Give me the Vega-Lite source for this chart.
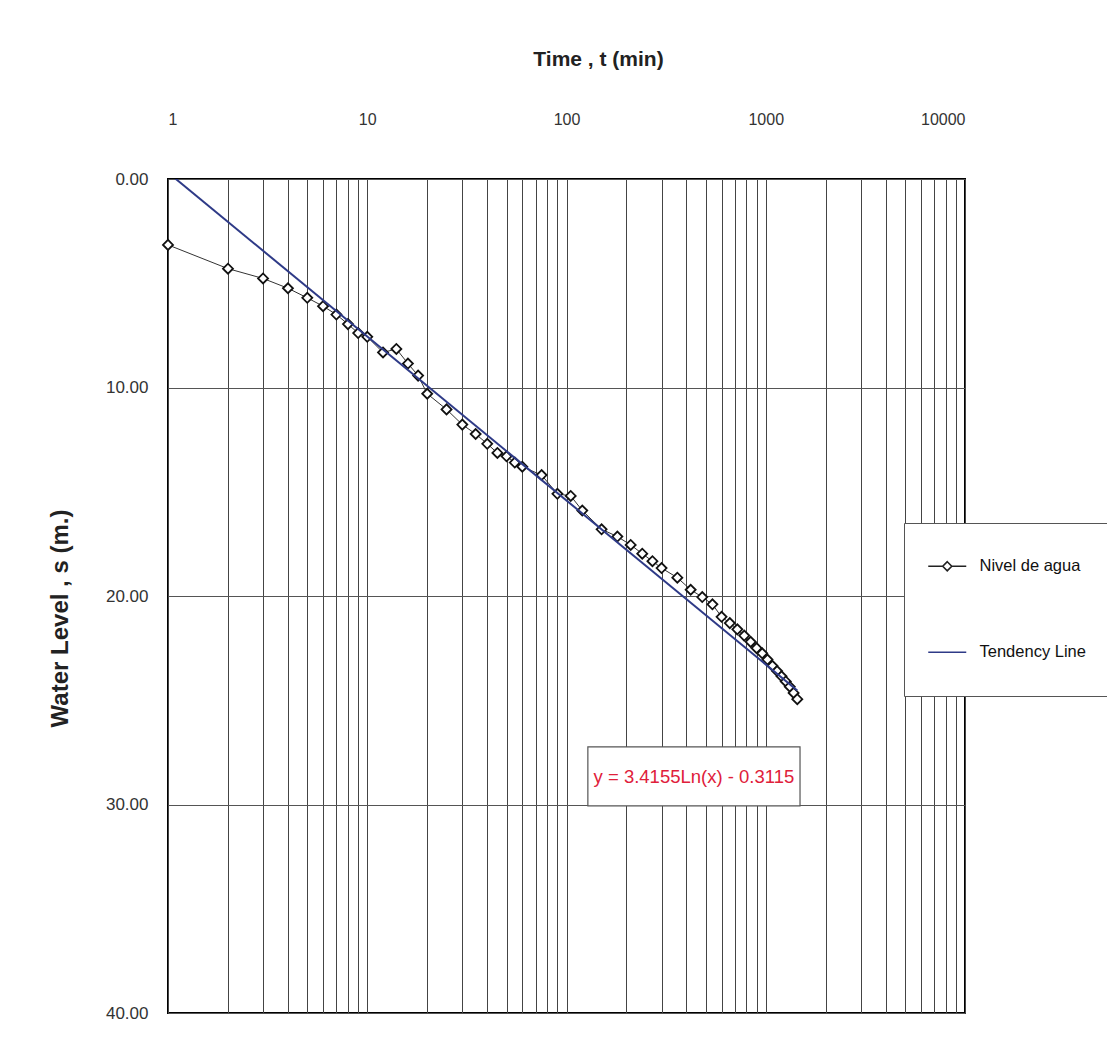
{
  "$schema": "https://vega.github.io/schema/vega-lite/v6.json",
  "autosize": "none",
  "width": 797,
  "height": 834,
  "padding": {"left": 168, "top": 179, "right": 142, "bottom": 45},
  "background": "white",
  "config": {
    "view": {"stroke": "black", "strokeWidth": 2},
    "font": "Liberation Sans"
  },
  "datasets": {
    "nivel": [
      {"t": 1, "s": 3.16}, {"t": 2, "s": 4.3}, {"t": 3, "s": 4.77}, {"t": 4, "s": 5.24},
      {"t": 5, "s": 5.7}, {"t": 6, "s": 6.1}, {"t": 7, "s": 6.5}, {"t": 8, "s": 6.96},
      {"t": 9, "s": 7.39}, {"t": 10, "s": 7.57}, {"t": 12, "s": 8.32}, {"t": 14, "s": 8.15},
      {"t": 16, "s": 8.85}, {"t": 18, "s": 9.43}, {"t": 20, "s": 10.3}, {"t": 25, "s": 11.05},
      {"t": 30, "s": 11.78}, {"t": 35, "s": 12.23}, {"t": 40, "s": 12.7}, {"t": 45, "s": 13.14},
      {"t": 50, "s": 13.3}, {"t": 55, "s": 13.6}, {"t": 60, "s": 13.8}, {"t": 75, "s": 14.2},
      {"t": 90, "s": 15.1}, {"t": 105, "s": 15.2}, {"t": 120, "s": 15.9}, {"t": 150, "s": 16.8},
      {"t": 180, "s": 17.15}, {"t": 210, "s": 17.55}, {"t": 240, "s": 17.97}, {"t": 270, "s": 18.33},
      {"t": 300, "s": 18.66}, {"t": 360, "s": 19.12}, {"t": 420, "s": 19.7}, {"t": 480, "s": 20.05},
      {"t": 540, "s": 20.4}, {"t": 600, "s": 21.0}, {"t": 660, "s": 21.3}, {"t": 720, "s": 21.6},
      {"t": 780, "s": 21.9}, {"t": 840, "s": 22.2}, {"t": 900, "s": 22.5}, {"t": 960, "s": 22.75},
      {"t": 1020, "s": 23.05}, {"t": 1080, "s": 23.35}, {"t": 1140, "s": 23.6}, {"t": 1200, "s": 23.85},
      {"t": 1260, "s": 24.1}, {"t": 1320, "s": 24.35}, {"t": 1380, "s": 24.65}, {"t": 1440, "s": 24.95}
    ],
    "trend": [
      {"t": 1, "s": -0.3115},
      {"t": 1440, "s": 24.53}
    ],
    "legendRows": [
      {"series": "Nivel de agua"},
      {"series": "Tendency Line"}
    ],
    "note": [
      {"t1": 128, "t2": 1486, "s1": 27.24, "s2": 30.07, "tm": 436, "sm": 28.68, "label": "y = 3.4155Ln(x) - 0.3115"}
    ]
  },
  "encoding": {
    "x": {
      "field": "t",
      "type": "quantitative",
      "scale": {"type": "log", "domain": [1, 10000]},
      "axis": {
        "orient": "top",
        "title": "Time , t (min)",
        "titleFont": "Liberation Sans",
        "titleFontSize": 21,
        "titleFontWeight": "bold",
        "titleColor": "#222",
        "titlePadding": 42,
        "titleX": 430,
        "titleAnchor": "start",
        "titleAlign": "center",
        "values": [1,2,3,4,5,6,7,8,9,10,20,30,40,50,60,70,80,90,100,200,300,400,500,600,700,800,900,1000,2000,3000,4000,5000,6000,7000,8000,9000,10000],
        "format": "d",
        "labelExpr": "(datum.value == 1 || datum.value == 10 || datum.value == 100 || datum.value == 1000 || datum.value == 10000) ? datum.label : ''",
        "labelOverlap": false,
        "labelFontSize": 16,
        "labelColor": "#333",
        "labelPadding": 52,
        "ticks": false,
        "tickSize": 0,
        "domain": false,
        "grid": true,
        "gridColor": "#444",
        "gridWidth": 1,
        "gridOpacity": 1
      }
    },
    "y": {
      "field": "s",
      "type": "quantitative",
      "scale": {"domain": [0, 40], "reverse": true, "nice": false},
      "axis": {
        "title": "Water Level , s (m.)",
        "titleFont": "Liberation Sans",
        "titleFontSize": 24,
        "titleFontWeight": "bold",
        "titleColor": "#222",
        "titlePadding": 33,
        "titleY": 439,
        "titleAnchor": "start",
        "titleAlign": "center",
        "values": [0, 10, 20, 30, 40],
        "format": ".2f",
        "labelFontSize": 17,
        "labelColor": "#333",
        "labelPadding": 20,
        "ticks": false,
        "tickSize": 0,
        "domain": false,
        "grid": true,
        "gridColor": "#555",
        "gridWidth": 1,
        "gridOpacity": 1
      }
    }
  },
  "layer": [
    {
      "data": {"name": "note"},
      "mark": {"type": "rect", "fill": "white", "stroke": "#555", "strokeWidth": 1.2},
      "encoding": {
        "x": {"field": "t1", "type": "quantitative"},
        "x2": {"field": "t2"},
        "y": {"field": "s1", "type": "quantitative"},
        "y2": {"field": "s2"}
      }
    },
    {
      "data": {"name": "nivel"},
      "mark": {"type": "line", "color": "#333", "strokeWidth": 1}
    },
    {
      "data": {"name": "nivel"},
      "mark": {"type": "point", "shape": "diamond", "size": 100, "filled": true, "fill": "white", "stroke": "#111", "strokeWidth": 1.8, "opacity": 1}
    },
    {
      "data": {"name": "trend"},
      "mark": {"type": "line", "color": "#2e3a87", "strokeWidth": 2, "clip": true}
    },
    {
      "data": {"name": "note"},
      "mark": {"type": "text", "color": "#e0203a", "font": "Liberation Sans", "fontSize": 18.5, "align": "center", "baseline": "middle"},
      "encoding": {
        "x": {"field": "tm", "type": "quantitative"},
        "y": {"field": "sm", "type": "quantitative"},
        "text": {"field": "label"}
      }
    },
    {
      "data": {"name": "legendRows"},
      "mark": {"type": "point", "opacity": 0, "filled": false, "strokeWidth": 1.5},
      "encoding": {
        "x": null,
        "y": null,
        "color": {
          "field": "series",
          "type": "nominal",
          "scale": {"domain": ["Nivel de agua", "Tendency Line"], "range": ["#222222", "#2e3a87"]},
          "legend": {
            "title": null,
            "orient": "none",
            "legendX": 736,
            "legendY": 344,
            "padding": 35,
            "rowPadding": 69,
            "fillColor": "white",
            "strokeColor": "#555",
            "symbolSize": 100,
            "symbolOpacity": 1,
            "symbolStrokeWidth": 1.6,
            "labelOffset": 24,
            "labelFont": "Liberation Sans",
            "labelFontSize": 16.5,
            "labelColor": "#111",
            "labelLimit": 300
          }
        },
        "shape": {
          "field": "series",
          "type": "nominal",
          "scale": {"domain": ["Nivel de agua", "Tendency Line"], "range": ["M-3.8,0H-0.9M0.9,0H3.8M0,-0.9L0.9,0L0,0.9L-0.9,0Z", "M-3.8,0H3.8"]},
          "legend": {
            "title": null,
            "orient": "none",
            "legendX": 736,
            "legendY": 344,
            "padding": 35,
            "rowPadding": 69,
            "fillColor": "white",
            "strokeColor": "#555",
            "symbolSize": 100,
            "symbolOpacity": 1,
            "symbolStrokeWidth": 1.6,
            "labelOffset": 24,
            "labelFont": "Liberation Sans",
            "labelFontSize": 16.5,
            "labelColor": "#111",
            "labelLimit": 300
          }
        }
      }
    }
  ]
}
